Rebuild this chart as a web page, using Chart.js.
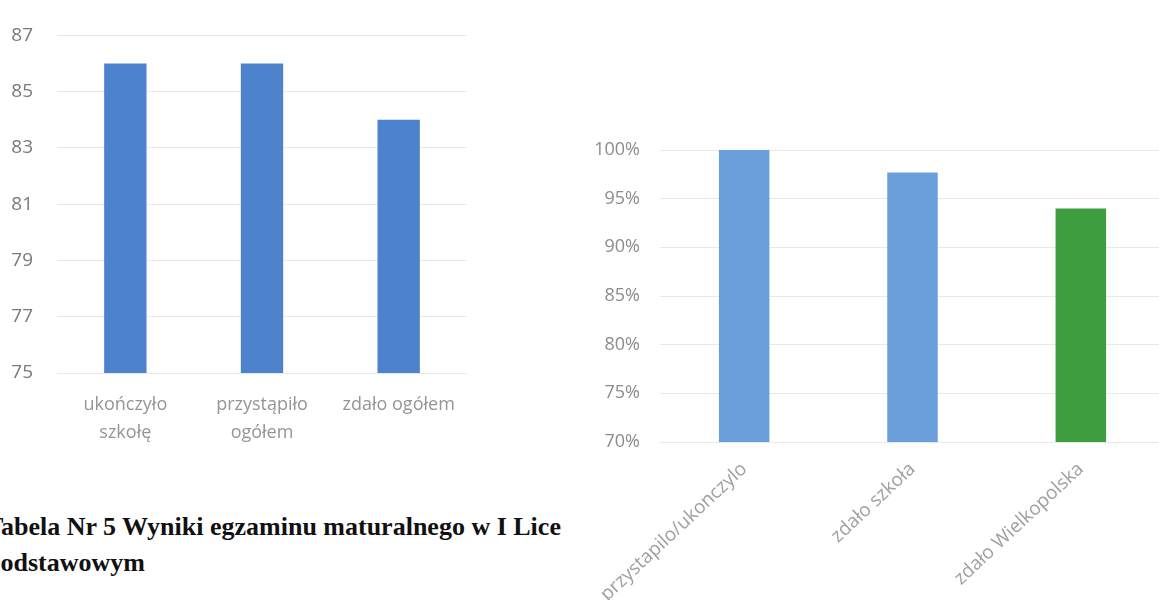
<!DOCTYPE html>
<html>
<head>
<meta charset="utf-8">
<script src="https://cdn.jsdelivr.net/npm/chart.js@4"></script>
<style>
  html, body { margin: 0; padding: 0; background: #fff; overflow: hidden; width: 1159px; height: 600px; }
  #left { position: absolute; left: 0; top: 0; }
  #right { position: absolute; left: 562px; top: 0; background: #fff; }
  .caption {
    position: absolute; left: -14px; top: 509px;
    font-family: "Liberation Serif", serif; font-weight: bold; font-size: 26px;
    line-height: 36px; color: #111; white-space: nowrap;
  }
</style>
</head>
<body>
<div class="caption">Tabela Nr 5 Wyniki egzaminu maturalnego w I Lice<br>podstawowym</div>
<canvas id="left" width="480" height="470"></canvas>
<canvas id="right" width="618" height="640"></canvas>
<script>
// left chart: number of students
const leftLabels = [["ukończyło", "szkołę"], ["przystąpiło", "ogółem"], "zdało ogółem"];
const leftValues = [86, 86, 84];
const leftTicks = { min: 75, max: 87, step: 2 };

// right chart: percentages
const rightLabels = ["przystapilo/ukonczylo", "zdało szkoła", "zdało Wielkopolska"];
const rightValues = [100, 97.7, 94];
const rightTicks = { min: 70, max: 100, step: 5 };

const gridColor = "#e9e9e9";

new Chart(document.getElementById("left"), {
  type: "bar",
  data: {
    labels: leftLabels,
    datasets: [{
      data: leftValues,
      backgroundColor: "#4d83cc",
      categoryPercentage: 1,
      barPercentage: 0.31,
    }],
  },
  options: {
    responsive: false,
    animation: false,
    layout: { padding: { top: 23, right: 13, left: 0, bottom: 0 } },
    plugins: { legend: { display: false }, tooltip: { enabled: false } },
    scales: {
      x: {
        grid: { display: false, drawTicks: false },
        border: { display: false },
        ticks: {
          color: "#959595",
          padding: 17,
          maxRotation: 0,
          font: { family: "Open Sans", size: 18, lineHeight: 1.6 },
        },
        afterFit: (s) => { s.height = 97; },
      },
      y: {
        min: leftTicks.min,
        max: leftTicks.max,
        grid: { color: gridColor, drawTicks: false },
        border: { display: false },
        ticks: {
          stepSize: leftTicks.step,
          color: "#7a7a7a",
          padding: 24,
          font: { family: "Open Sans", size: 19 },
        },
        afterFit: (s) => { s.width = 57; },
      },
    },
  },
});

new Chart(document.getElementById("right"), {
  type: "bar",
  data: {
    labels: rightLabels,
    datasets: [{
      data: rightValues,
      backgroundColor: ["#6a9fdb", "#6a9fdb", "#3d9e40"], // szkoła, szkoła, województwo
      categoryPercentage: 1,
      barPercentage: 0.3,
    }],
  },
  options: {
    responsive: false,
    animation: false,
    layout: { padding: { top: 150, right: 15, left: 0, bottom: 0 } },
    plugins: { legend: { display: false }, tooltip: { enabled: false } },
    scales: {
      x: {
        grid: { display: false, drawTicks: false },
        border: { display: false },
        ticks: {
          color: "#a0a0a0",
          padding: 16,
          minRotation: 43,
          maxRotation: 43,
          font: { family: "Open Sans", size: 19 },
        },
        afterFit: (s) => { s.height = 198; },
      },
      y: {
        min: rightTicks.min,
        max: rightTicks.max,
        grid: { color: gridColor, drawTicks: false },
        border: { display: false },
        ticks: {
          stepSize: rightTicks.step,
          color: "#8c8c8c",
          padding: 20,
          font: { family: "Open Sans", size: 18 },
          callback: (v) => v + "%",
        },
        afterFit: (s) => { s.width = 98; },
      },
    },
  },
});
</script>
</body>
</html>
